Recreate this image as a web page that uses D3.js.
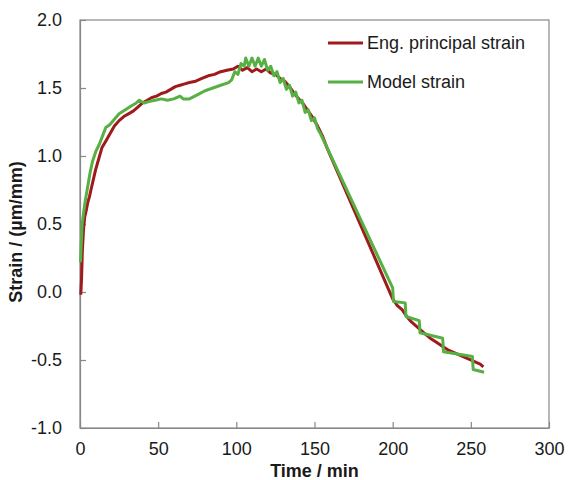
<!DOCTYPE html>
<html>
<head>
<meta charset="utf-8">
<script src="https://cdn.jsdelivr.net/npm/d3@7"></script>
<style>
  body { margin: 0; background: #fff; }
  text { font-family: "Liberation Sans", Arial, sans-serif; fill: #1a1a1a; }
</style>
</head>
<body>
<script>
// engineering principal strain (measured)
var engTime = [0.5, 1, 1.5, 2.2, 3, 4, 5, 6, 7, 8, 10, 12, 14, 16, 18, 20, 22, 25, 28, 31,
  34, 37, 40, 43, 46, 49, 52, 55, 58, 61, 64, 67, 70, 74, 78, 82, 86, 90, 94, 98,
  101, 104, 107, 110, 113, 116, 119, 122, 125, 128, 131, 134, 137, 140, 143, 146, 149, 152, 155, 158,
  200, 203, 206, 209, 212, 216, 220, 224, 228, 232, 236, 240, 244, 248, 252, 256, 258]
var engStrain = [-0.02, 0.10, 0.30, 0.45, 0.55, 0.60, 0.66, 0.70, 0.75, 0.80, 0.90, 0.98, 1.06, 1.10, 1.14, 1.18, 1.22, 1.26, 1.29, 1.31,
  1.33, 1.36, 1.39, 1.41, 1.43, 1.44, 1.46, 1.47, 1.49, 1.51, 1.52, 1.53, 1.54, 1.55, 1.57, 1.59, 1.60, 1.62, 1.63, 1.64,
  1.66, 1.63, 1.65, 1.62, 1.64, 1.62, 1.64, 1.61, 1.60, 1.57, 1.55, 1.51, 1.46, 1.42, 1.38, 1.33, 1.28, 1.22, 1.15, 1.06,
  -0.05, -0.10, -0.13, -0.18, -0.22, -0.26, -0.30, -0.34, -0.37, -0.40, -0.43, -0.45, -0.47, -0.49, -0.51, -0.53, -0.55]

// model strain
var modelTime = [0.3, 0.8, 1.4, 2.5, 3.5, 5, 6.5, 8, 10, 12.5, 14.5, 16.5, 19, 22, 25, 29, 33, 36, 38, 41,
  44, 48, 52, 56, 60, 64, 66, 70, 75, 80, 85, 90, 95, 97, 99, 101, 103, 105, 106, 108,
  110, 112, 114, 116, 118, 120, 122, 124, 126, 128, 130, 132, 134, 136, 138, 140, 142, 144, 146, 148,
  150, 152, 154, 200, 200.5, 208, 208.5, 217, 217.5, 232, 232.5, 251, 251.5, 258.5]
var modelStrain = [0.22, 0.35, 0.50, 0.60, 0.68, 0.78, 0.88, 0.96, 1.03, 1.09, 1.15, 1.21, 1.23, 1.27, 1.31, 1.34, 1.37, 1.39, 1.41, 1.39,
  1.40, 1.41, 1.42, 1.41, 1.42, 1.44, 1.42, 1.42, 1.45, 1.48, 1.50, 1.52, 1.54, 1.56, 1.62, 1.60, 1.68, 1.66, 1.72, 1.66,
  1.72, 1.66, 1.72, 1.66, 1.71, 1.63, 1.66, 1.59, 1.62, 1.54, 1.57, 1.49, 1.52, 1.44, 1.47, 1.39, 1.41, 1.32, 1.34, 1.26,
  1.28, 1.20, 1.16, 0.03, -0.07, -0.08, -0.18, -0.21, -0.30, -0.34, -0.44, -0.475, -0.57, -0.59]

var xTicks = [0, 50, 100, 150, 200, 250, 300]
var yTicks = [-1.0, -0.5, 0.0, 0.5, 1.0, 1.5, 2.0]
var seriesNames = ['Eng. principal strain', 'Model strain']
var seriesColors = ['#9e1a1c', '#56b043']

var width = 568, height = 480
var margin = {top: 20, right: 19, bottom: 52, left: 80}

var svg = d3.select('body')
  .append('svg')
  .attr('width', width)
  .attr('height', height)

var x = d3.scaleLinear().domain([0, 300]).range([margin.left, width - margin.right])
var y = d3.scaleLinear().domain([-1, 2]).range([height - margin.bottom, margin.top])

// frame
svg.append('rect')
  .attr('x', x(0))
  .attr('y', y(2))
  .attr('width', x(300) - x(0))
  .attr('height', y(-1) - y(2))
  .style('fill', 'none')
  .style('stroke', '#888')
  .style('stroke-width', '1.2px')

var xAxis = svg.append('g')
  .attr('transform', 'translate(0,' + y(-1) + ')')
  .call(d3.axisBottom(x).tickValues(xTicks).tickSizeInner(-6).tickSizeOuter(0).tickPadding(14).tickFormat(d3.format('d')))

var yAxis = svg.append('g')
  .attr('transform', 'translate(' + x(0) + ',0)')
  .call(d3.axisLeft(y).tickValues(yTicks).tickSizeInner(-6).tickSizeOuter(0).tickPadding(18)
    .tickFormat(function(d) { return d.toFixed(1) }))

svg.selectAll('.domain').style('stroke', '#888').style('stroke-width', '1.2px')
svg.selectAll('.tick line').style('stroke', '#888').style('stroke-width', '1.2px')
svg.selectAll('.tick text').style('font-size', '18px').style('font-family', '"Liberation Sans", Arial, sans-serif').attr('fill', '#1a1a1a')

svg.append('text')
  .attr('x', (x(0) + x(300)) / 2)
  .attr('y', 477)
  .attr('text-anchor', 'middle')
  .style('font-size', '18px')
  .style('font-weight', 'bold')
  .text('Time / min')

svg.append('text')
  .attr('transform', 'translate(22,' + ((y(2) + y(-1)) / 2 + 8) + ') rotate(-90)')
  .attr('text-anchor', 'middle')
  .style('font-size', '18px')
  .style('font-weight', 'bold')
  .text('Strain / (µm/mm)')

var line = d3.line()
  .x(function(d) { return x(d[0]) })
  .y(function(d) { return y(d[1]) })

var engData = engTime.map(function(t, i) { return [t, engStrain[i]] })
var modelData = modelTime.map(function(t, i) { return [t, modelStrain[i]] })

svg.append('path')
  .datum(engData)
  .attr('d', line)
  .style('fill', 'none')
  .style('stroke', seriesColors[0])
  .style('stroke-width', '3px')
  .style('stroke-linejoin', 'round')

svg.append('path')
  .datum(modelData)
  .attr('d', line)
  .style('fill', 'none')
  .style('stroke', seriesColors[1])
  .style('stroke-width', '3px')
  .style('stroke-linejoin', 'round')

// legend
var legend = svg.selectAll('.legend')
  .data(seriesNames)
  .enter()
  .append('g')
  .classed('legend', true)
  .attr('transform', function(d, i) { return 'translate(328,' + (43 + i * 39) + ')' })

legend.append('line')
  .attr('x1', 0)
  .attr('x2', 35)
  .style('stroke', function(d, i) { return seriesColors[i] })
  .style('stroke-width', '3px')

legend.append('text')
  .attr('x', 39)
  .attr('y', 6)
  .style('font-size', '18px')
  .text(function(d) { return d })
</script>
</body>
</html>
